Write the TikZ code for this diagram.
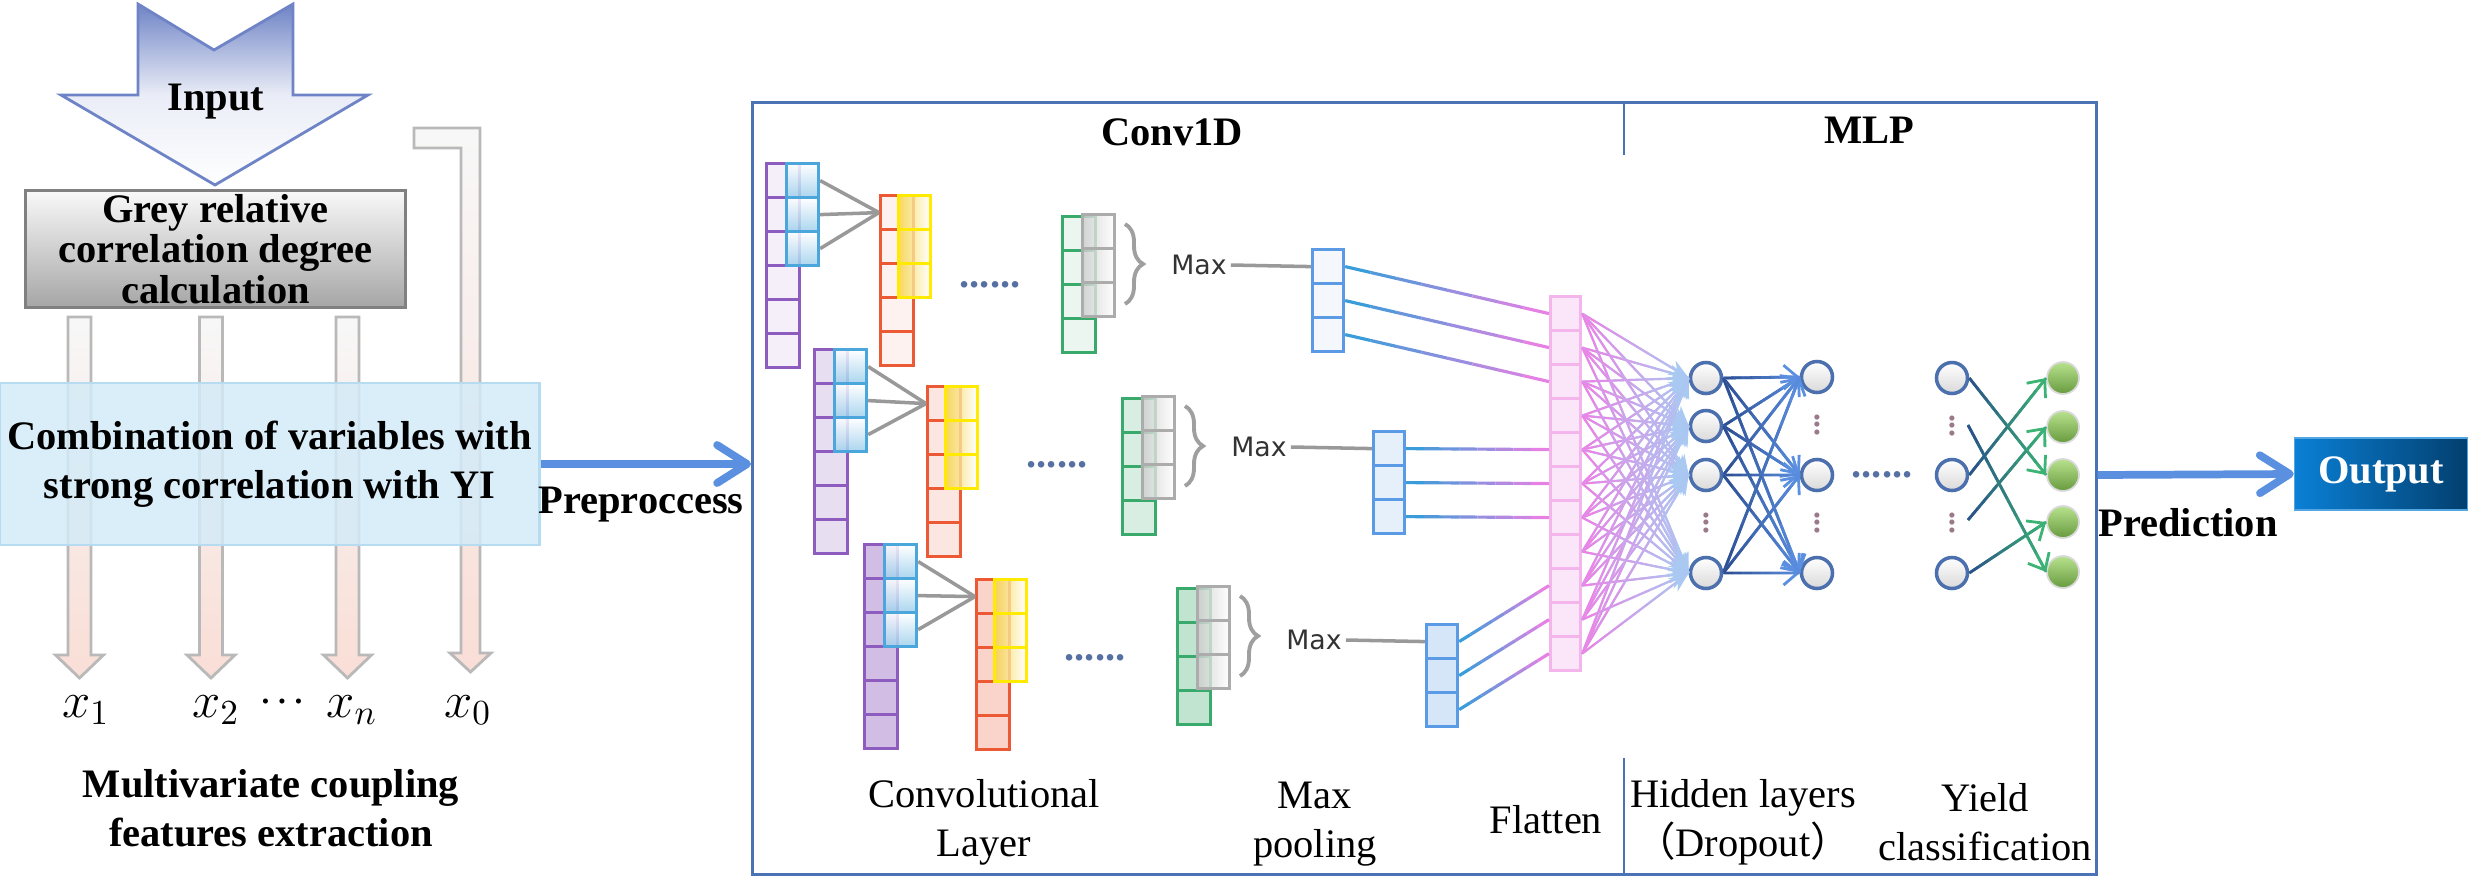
\documentclass[tikz,border=0pt]{standalone}
\usepackage{fontspec}
\setmainfont{Liberation Serif}
\newfontfamily\maxfont{DejaVu Sans}
\newfontfamily\cjk{Noto Sans CJK SC}
\usetikzlibrary{arrows.meta,calc,positioning,decorations.pathreplacing}

\definecolor{purp}{HTML}{8E5BBE}
\definecolor{redc}{HTML}{EB5A35}
\definecolor{yelc}{HTML}{FFEA00}
\definecolor{kblue}{HTML}{4BA6DC}
\definecolor{grnc}{HTML}{3AAA6C}
\definecolor{poolc}{HTML}{5B9BE6}
\definecolor{flatc}{HTML}{F3B5EC}
\definecolor{boxblue}{HTML}{4A72B4}
\definecolor{arrowblue}{HTML}{5B8FE0}
\definecolor{neur}{HTML}{4C6FAE}
\definecolor{navy}{HTML}{2C4C8E}
\definecolor{pinkl}{HTML}{F07FE4}
\definecolor{skyl}{HTML}{A9C9F2}
\definecolor{cyanl}{HTML}{2E9ED8}
\definecolor{greenl}{HTML}{3CB574}
\definecolor{inblue}{HTML}{6F84C6}
\definecolor{pinkarr}{HTML}{F9DED6}
\definecolor{combfill}{HTML}{D4EBF8}
\definecolor{gtop}{HTML}{B8E28E}
\definecolor{gbot}{HTML}{679A3E}
\definecolor{outl}{HTML}{0A80D6}
\definecolor{outr}{HTML}{023F6E}
\definecolor{ygold}{HTML}{F6D23C}
\definecolor{vdot}{HTML}{9A7A8A}

\tikzset{
  lab/.style={font=\fontsize{11.5}{14}\selectfont, align=center, inner sep=1pt},
  blab/.style={lab, font=\fontsize{11.5}{14}\selectfont\bfseries},
  xlab/.style={font=\fontsize{14}{14}\selectfont, inner sep=1pt},
  maxlab/.style={font=\maxfont\fontsize{7.6}{8}\selectfont, text=black!80, inner sep=1pt},
  dotlab/.style={font=\fontsize{11.5}{12}\selectfont\bfseries, text=navy!80, inner sep=0pt},
  vdotlab/.style={font=\fontsize{9}{9}\selectfont\bfseries, text=vdot,
    inner sep=0pt, rotate=90},
  cell/.style={draw, line width=0.9pt, minimum width=0.33cm, minimum height=0.34cm,
    inner sep=0pt, anchor=north west},
  pcell/.style={cell, draw=purp, fill=purp!#1},
  rcell/.style={cell, draw=redc, fill=redc!#1},
  gcell/.style={cell, draw=grnc, fill=grnc!#1},
  qcell/.style={cell, draw=poolc, fill=poolc!#1, minimum width=0.31cm},
  fcell/.style={cell, draw=flatc, fill=flatc!35, minimum width=0.30cm},
  kcell/.style={cell, draw=kblue, top color=white, bottom color=kblue!55,
    fill opacity=0.85, minimum width=0.32cm},
  ycell/.style={cell, draw=yelc, left color=ygold, right color=white,
    fill opacity=0.8, minimum width=0.32cm},
  scell/.style={cell, draw=gray!65, left color=gray!40, right color=white,
    fill opacity=0.8, minimum width=0.32cm},
  kline/.style={draw=gray!80, line width=1pt},
  mline/.style={draw=gray!80, line width=1pt},
  brc/.style={decorate, decoration={brace, amplitude=0.18cm}, draw=gray!75, line width=1.1pt},
  fline/.style={line width=0.9pt},
  farr/.style={line width=0.6pt, -{Stealth[length=2mm, width=1.6mm]}},
  harr/.style={line width=0.8pt, -{Straight Barb[length=1.4mm, width=2.4mm]}},
  garr/.style={line width=0.8pt, -{Straight Barb[length=1.4mm, width=2.4mm]}},
  neuron/.style={circle, draw=neur, line width=1pt, minimum size=0.31cm, inner sep=0pt,
    top color=white, bottom color=gray!30},
  gneuron/.style={circle, draw=gray!30, line width=0.5pt, minimum size=0.32cm, inner sep=0pt,
    top color=gtop, bottom color=gbot},
  inarrow/.style={draw=inblue, line width=0.8pt, top color=inblue, bottom color=white,
    middle color=inblue!15},
  barr/.style={draw=gray!55, line width=0.8pt, top color=gray!6, bottom color=pinkarr},
  greybox/.style={blab, draw=gray, line width=0.8pt, top color=gray!5, bottom color=gray!70,
    minimum width=3.79cm, minimum height=1.16cm, font=\fontsize{11.5}{11.5}\selectfont\bfseries},
  combbox/.style={blab, draw=kblue!40, line width=0.8pt, fill=combfill, fill opacity=0.85,
    text opacity=1, minimum width=5.39cm, minimum height=1.62cm},
  bigarrow/.style={draw=arrowblue, line width=2.2pt,
    -{Straight Barb[length=3mm, width=3.8mm, round]}},
  outbox/.style={blab, text=white, draw=outl!70, left color=outl, right color=outr,
    minimum width=1.73cm, minimum height=0.72cm}
}

% a column of n cells: name, style, left x, top y, n
\newcommand{\cellcol}[5]{%
  \foreach \k in {1,...,#5}{
    \node[#2] (#1-\k) at (#3,{#4+34*(\k-1)}) {};}}

% straight line that fades from one colour to another
\newcommand{\fadeline}[5]{%
  \foreach \fa [evaluate=\fa as \fb using \fa+0.125,
                evaluate=\fa as \fp using int(94-100*\fa)] in {0,0.125,...,0.875}{
    \draw[#1, -, #4!\fp!#5] ($(#2)!\fa!(#3)$) -- ($(#2)!\fb!(#3)$);}}
\newcommand{\fadearrow}[5]{%
  \draw[#1, #5] (#2) -- (#3);
  \fadeline{#1}{#2}{#3}{#4}{#5}}

\begin{document}
\begin{tikzpicture}[x=0.01cm, y=-0.01cm]
% pixel coordinates, y going down
\useasboundingbox (0,0) rectangle (2471,878);

% left part: input, grey relational analysis and the selected variables
\draw[inarrow] (138,4) -- (214,50) -- (293,4) -- (293,95) -- (368,95) -- (215,185)
  -- (61,95) -- (138,95) -- cycle;
\node[blab] (inp) at (216,102) {Input};
\node[greybox] (grey) at (215.5,249) {Grey relative\\correlation degree\\calculation};
\draw[barr] (414,128) -- (480,128) -- (480,653) -- (491,653) -- (470.5,672) -- (450,653)
  -- (461,653) -- (461,148) -- (414,148) -- cycle;
\foreach \c in {79.5,211,347.5}{
  \draw[barr] ({\c-11.5},317) -- ({\c+11.5},317) -- ({\c+11.5},655) -- ({\c+24},655)
    -- (\c,678) -- ({\c-24},655) -- ({\c-11.5},655) -- cycle;}
\node[combbox] (comb) at (269.5,464) {Combination of variables with\\strong correlation with YI};
\node[xlab] (x1) at (86,710) {$x_1$};
\node[xlab] (x2) at (216,710) {$x_2$};
\node[xlab] (xd) at (282,704)
  {\fontsize{6}{6}\selectfont\textbullet\hspace{2.6pt}\textbullet\hspace{2.6pt}\textbullet};
\node[xlab] (xn) at (352,710) {$x_n$};
\node[xlab] (x0) at (468,710) {$x_0$};
\node[blab] (mce) at (271,808) {Multivariate coupling\\features extraction};

% the network box
\node[draw=boxblue, line width=0.8pt, minimum width=13.43cm, minimum height=7.72cm,
  anchor=north west, inner sep=0pt] (mainbox) at (751,101) {};
\draw[boxblue, line width=0.8pt] (1624,101) -- (1624,155) (1624,758) -- (1624,873);
\draw[bigarrow] (comb.east) -- (comb.east -| mainbox.west);
\node[blab] (pre) at (641,505) {Preproccess};
\node[blab] (conv) at (1172,132) {Conv1D};
\node[blab] (mlp) at (1869,130) {MLP};

% three conv rows: input, kernel, feature map, pooling
\foreach \r/\px/\py/\rx/\ry/\dx/\dy/\gx/\gy/\qx/\qy/\sp/\sr/\sg/\sq in {
    1/765/162/879/194/990/285/1061/215/1311/248/10/8/10/7,
    2/813/348/926/385/1057/465/1121/397/1372/430/20/15/20/15,
    3/863/543/975/578/1095/658/1176/587/1425/623/40/26/32/25}{
  \cellcol{p\r}{pcell=\sp}{\px}{\py}{6}
  \cellcol{k\r}{kcell}{\px+20}{\py}{3}
  \cellcol{r\r}{rcell=\sr}{\rx}{\ry}{5}
  \cellcol{y\r}{ycell}{\rx+18}{\ry}{3}
  \foreach \k in {1,2,3}{\draw[kline] (k\r-\k.east) -- (r\r-1.west);}
  \node[dotlab] (d\r) at (\dx,\dy) {......};
  \cellcol{g\r}{gcell=\sg}{\gx}{\gy}{4}
  \cellcol{s\r}{scell}{\gx+20}{\gy-2}{3}
  \draw[brc] (\gx+64,\gy+9) -- (\gx+64,\gy+89);
  \node[maxlab] (m\r) at (\gx+138,\qy+17) {Max};
  \cellcol{q\r}{qcell=\sq}{\qx}{\qy}{3}
  \draw[mline] (m\r.east) -- (q\r-1.west);
}

% flatten
\cellcol{f}{fcell}{1549}{295}{11}
\foreach \r/\o in {1/0,2/4,3/8}{
  \foreach \k in {1,2,3}{
    \pgfmathtruncatemacro\j{\k+\o}
    \fadeline{fline}{q\r-\k.east}{f-\j.west}{cyanl}{pinkl}
  }}

% MLP neurons
\foreach \j/\y in {1/378,2/426,3/475,4/573}{\node[neuron] (h1-\j) at (1706,\y) {};}
\node[vdotlab] (hv1) at (1706,523) {...};
\foreach \j/\y in {1/377,2/475,3/573}{\node[neuron] (h2-\j) at (1817,\y) {};}
\node[vdotlab] (hv2) at (1817,425) {...};
\node[vdotlab] (hv3) at (1817,523) {...};
\node[dotlab] (md) at (1882,475) {......};
\foreach \j/\y in {1/378,2/475,3/573}{\node[neuron] (o-\j) at (1952,\y) {};}
\node[vdotlab] (ov1) at (1952,426) {...};
\node[vdotlab] (ov2) at (1952,523) {...};
\foreach \j/\y in {1/378,2/427,3/475,4/522,5/572}{\node[gneuron] (gn-\j) at (2063,\y) {};}

\foreach \i in {1,...,11}{
  \foreach \j in {1,...,4}{
    \fadearrow{farr}{f-\i.east}{h1-\j.west}{pinkl}{skyl}}}
\foreach \i in {1,...,4}{
  \foreach \j in {1,2,3}{
    \fadearrow{harr}{h1-\i.east}{h2-\j.west}{navy}{arrowblue}}}

\coordinate (od1) at (1968,425);
\coordinate (od2) at (1968,520);
\fadearrow{garr}{o-1.east}{gn-3.west}{navy}{greenl}
\fadearrow{garr}{od1}{gn-5.west}{navy}{greenl}
\fadearrow{garr}{o-2.east}{gn-1.west}{navy}{greenl}
\fadearrow{garr}{od2}{gn-2.west}{navy}{greenl}
\fadearrow{garr}{o-3.east}{gn-4.west}{navy}{greenl}

% bottom captions
\node[lab] (cl) at (984,822) {Convolutional\\Layer};
\node[lab] (mp) at (1315,824) {Max\\pooling};
\node[lab] (fl) at (1546,820) {Flatten};
\node[lab] (hl) at (1743,822) {Hidden layers\\{\cjk （}Dropout{\cjk ）}};
\node[lab] (yc) at (1985,822) {Yield\\classification};

% output
\node[outbox] (out) at (2381,474) {Output};
\draw[bigarrow] (gn-3 -| mainbox.east) -- (out.west);
\node[blab] (pred) at (2188,523) {Prediction};
\end{tikzpicture}
\end{document}
